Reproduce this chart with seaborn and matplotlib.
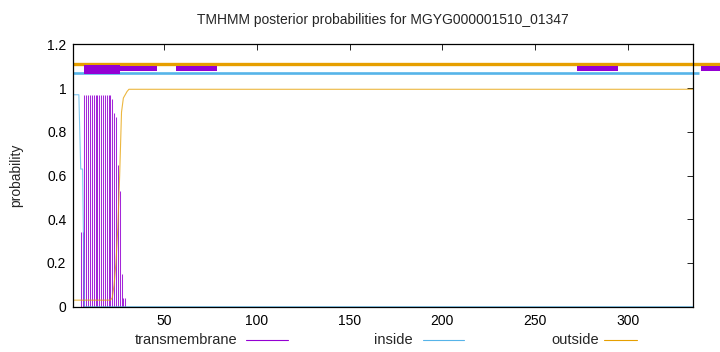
import matplotlib
matplotlib.use("Agg")
import matplotlib.pyplot as plt
from matplotlib.lines import Line2D
from matplotlib.ticker import FormatStrFormatter
import seaborn as sns
import pandas as pd

# ---- data ----
title = "TMHMM posterior probabilities for MGYG000001510_01347"
seq_length = 335

# transmembrane posterior (impulses), positions 1..30 (zero afterwards)
tm_pos = list(range(1, 31))
tm_prob = [0.0, 0.0, 0.0, 0.0, 0.34, 0.34, 0.967, 0.967, 0.967, 0.967,
           0.967, 0.967, 0.967, 0.967, 0.967, 0.967, 0.967, 0.967, 0.967, 0.967,
           0.967, 0.949, 0.888, 0.868, 0.648, 0.53, 0.15, 0.04, 0.04, 0.0]

# inside posterior (line)
inside_pos = [1, 4, 5, 6, 7, 335]
inside_prob = [0.97, 0.97, 0.63, 0.63, 0.0, 0.0]

# outside posterior (line)
outside_pos = [1, 21, 22, 23, 24, 25, 26, 27, 28, 29, 30, 31, 335]
outside_prob = [0.03, 0.03, 0.04, 0.10, 0.20, 0.36, 0.60, 0.89, 0.955, 0.97, 0.985, 0.995, 0.995]

# topology bars at the top
outside_bar = (1, 362)          # orange line at 1.11
inside_bar = (1, 338.4)         # blue line at 1.07
tm_box = [(7, 26.2)]            # tall purple box
extra_boxes = [(26.2, 46.2), (56.5, 78.6), (272.5, 294.7), (339.5, 362)]

xticks = [50, 100, 150, 200, 250, 300]
yticks = [0, 0.2, 0.4, 0.6, 0.8, 1.0, 1.2]
legend_labels = ["transmembrane", "inside", "outside"]

c_tm = "#9400D3"
c_in = "#56B4E9"
c_out = "#E69F00"

sns.set_theme(style="white")
plt.rcParams["font.family"] = ["Liberation Sans", "DejaVu Sans"]

fig = plt.figure(figsize=(7.2, 3.52), dpi=100)
ax = fig.add_axes([0.1018, 0.1287, 0.8602, 0.7449])

# impulses for transmembrane
ax.vlines(tm_pos, 0, tm_prob, color=c_tm, linewidth=0.75, alpha=0.85)

df_in = pd.DataFrame({"pos": inside_pos, "prob": inside_prob})
df_out = pd.DataFrame({"pos": outside_pos, "prob": outside_prob})
sns.lineplot(data=df_in, x="pos", y="prob", color=c_in, linewidth=0.8, ax=ax, alpha=0.75)
sns.lineplot(data=df_out, x="pos", y="prob", color=c_out, linewidth=0.8, ax=ax, alpha=0.75)

# topology bars
ax.plot(list(outside_bar), [1.109, 1.109], color=c_out, linewidth=2.4,
        solid_capstyle="butt", clip_on=False, zorder=3)
ax.plot(list(inside_bar), [1.071, 1.071], color=c_in, linewidth=1.9,
        solid_capstyle="butt", clip_on=False, zorder=3)
bb = ax.broken_barh([(a, b - a) for a, b in extra_boxes], (1.077, 0.024),
                    facecolor=c_tm, edgecolor="none", zorder=4)
bb.set_clip_on(False)
bt = ax.broken_barh([(a, b - a) for a, b in tm_box], (1.067, 0.039),
                    facecolor=c_tm, edgecolor="none", zorder=4)
bt.set_clip_on(False)

ax.set_xlim(1, seq_length)
ax.set_ylim(0, 1.2)
ax.set_xticks(xticks)
ax.set_yticks(yticks)
ax.yaxis.set_major_formatter(FormatStrFormatter("%g"))
ax.set_xlabel("")
ax.set_ylabel("probability", fontsize=10, labelpad=17)
ax.tick_params(direction="in", top=True, right=True, length=4, width=0.6,
               labelsize=10, pad=5, colors="black")
ax.tick_params(axis="x", pad=5)
for s in ax.spines.values():
    s.set_color("black")
    s.set_linewidth(0.9)
    s.set_zorder(5)

fig.text(0.532, 0.943, title, ha="center", va="center", fontsize=10)

# legend drawn below the axis
leg_y = 0.034
text_right = [237 / 720, 413 / 720, 599 / 720]
line_span = [(246 / 720, 288 / 720), (423 / 720, 464 / 720), (604 / 720, 637 / 720)]
for lab, tx, (l0, l1), col in zip(legend_labels, text_right, line_span, [c_tm, c_in, c_out]):
    fig.text(tx, leg_y, lab, ha="right", va="center", fontsize=10.5)
    fig.add_artist(Line2D([l0, l1], [leg_y, leg_y], color=col, linewidth=0.8,
                          transform=fig.transFigure))

fig.savefig("out.png", dpi=100)
